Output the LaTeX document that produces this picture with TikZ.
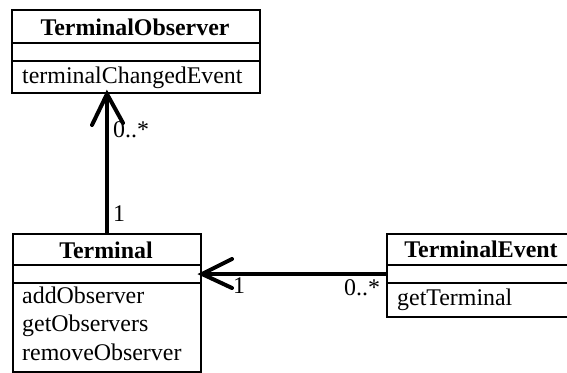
\documentclass[tikz,border=0pt]{standalone}
\usepackage{fontspec}
\setmainfont{Liberation Serif}
\usetikzlibrary{calc}
\begin{document}
\begin{tikzpicture}[x=1bp,y=-1bp,
  comp/.style={draw, line width=2bp, anchor=north west, inner sep=0pt, minimum width=#1},
  ttl/.style={anchor=base, inner sep=0pt, font=\fontsize{23.9bp}{28.5bp}\selectfont\bfseries},
  meth/.style={anchor=base west, inner sep=0pt, font=\fontsize{23.9bp}{28.5bp}\selectfont},
  mult/.style={anchor=base west, inner sep=0pt, font=\fontsize{23.9bp}{28.5bp}\selectfont},
  assoc/.style={line width=4bp},
  vhead/.style={line width=4bp, line cap=round, line join=miter}]
\useasboundingbox (0,0) rectangle (567,372);
\clip (0,0) rectangle (567,372);
% TerminalObserver
\node[comp=248bp, minimum height=33bp] (obsT) at (11,9) {};
\node[comp=248bp, minimum height=18bp] (obsA) at (11,42) {};
\node[comp=248bp, minimum height=32bp] (obsM) at (11,60) {};
\node[ttl] (obsTt) at (135,35) {TerminalObserver};
\node[meth] (obsM1) at (22,83) {terminalChangedEvent};
% Terminal
\node[comp=188bp, minimum height=31bp] (termT) at (12,233) {};
\node[comp=188bp, minimum height=18bp] (termA) at (12,264) {};
\node[comp=188bp, minimum height=89bp] (termM) at (12,282) {};
\node[ttl] (termTt) at (106,258) {Terminal};
\node[meth] (termM1) at (22,303) {addObserver};
\node[meth] (termM2) at (22,331.5) {getObservers};
\node[meth] (termM3) at (22,360) {removeObserver};
% TerminalEvent
\node[comp=194bp, minimum height=31bp] (evT) at (386,233) {};
\node[comp=194bp, minimum height=18bp] (evA) at (386,264) {};
\node[comp=194bp, minimum height=34bp] (evM) at (386,282) {};
\node[ttl] (evTt) at (481,257) {TerminalEvent};
\node[meth] (evM1) at (397,305) {getTerminal};
% association Terminal -> TerminalObserver
\coordinate (vtip) at (termT.north |- obsM.south);
\draw[assoc] (termT.north) -- (vtip);
\draw[vhead] ($(vtip)+(-15,31)$) -- (vtip) -- ++(16,29);
\node[mult] (m1) at (113,137) {0..*};
\node[mult] (m2) at (113,221) {1};
% association TerminalEvent -> Terminal
\draw[assoc] (evA.west) -- (termA.east);
\draw[vhead] ($(termA.east)+(30,-15)$) -- (termA.east) -- ++(30,14);
\node[mult] (m3) at (233,293) {1};
\node[mult] (m4) at (344,295) {0..*};
\end{tikzpicture}
\end{document}
